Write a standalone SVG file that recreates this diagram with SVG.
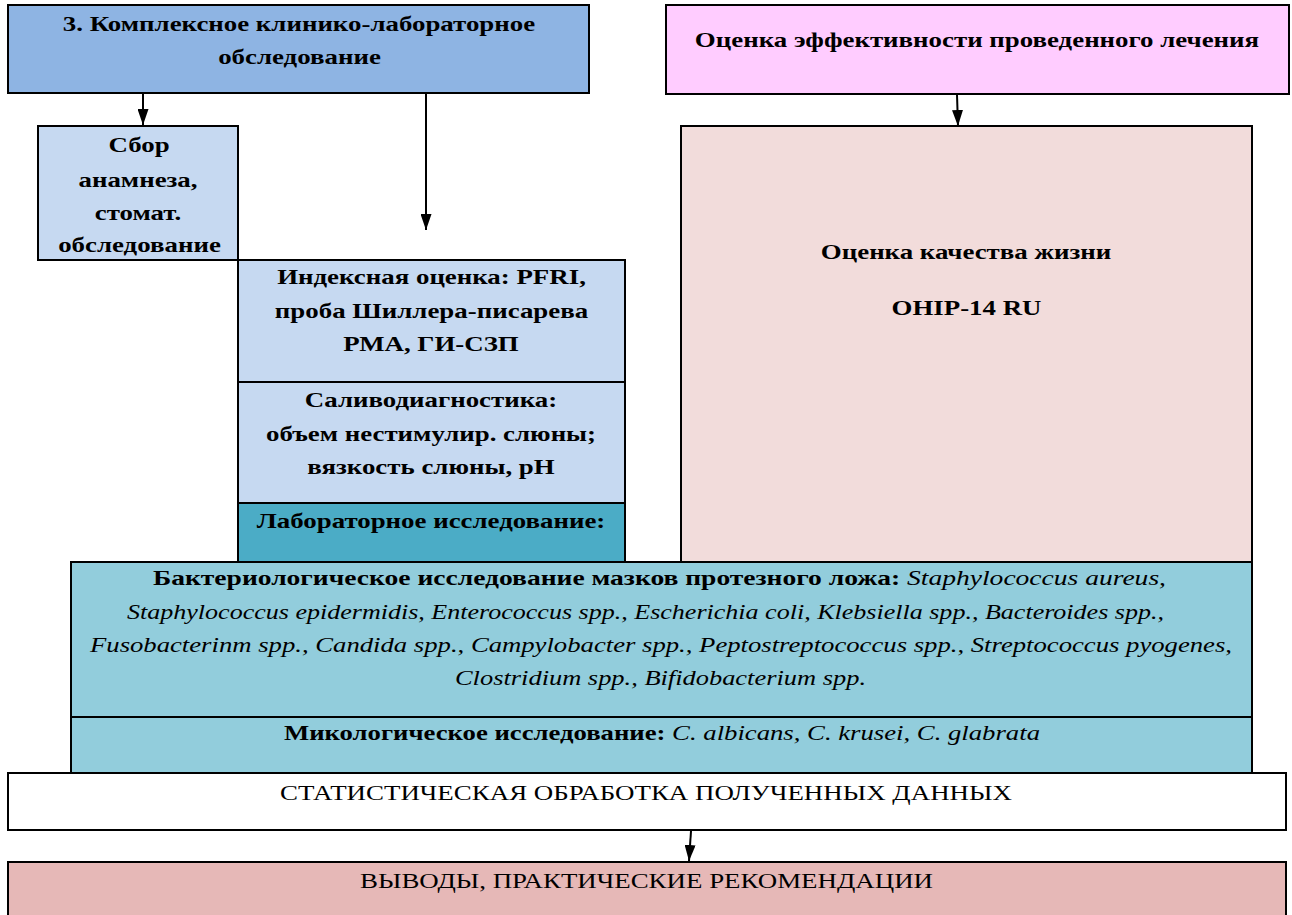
<svg xmlns="http://www.w3.org/2000/svg" width="1292" height="915" viewBox="0 0 1292 915">
<defs>
<marker id="ah" viewBox="0 0 16 11" refX="16" refY="5.5" markerWidth="16" markerHeight="11" markerUnits="userSpaceOnUse" orient="auto">
<path d="M0,0 L16,5.5 L0,11 z" fill="#000"/>
</marker>
<style>
.box{stroke:#000;stroke-width:2}
.t{font-family:"Liberation Serif","Times New Roman",serif;font-size:21px;fill:#000;text-anchor:middle}
.b{font-weight:bold}
.i{font-style:italic;font-weight:normal}
.r{font-size:20px;font-weight:normal}
.c{stroke:#000;stroke-width:2;fill:none;marker-end:url(#ah)}
</style>
</defs>
<rect width="1292" height="915" fill="#fff"/>
<g id="n-complex">
<rect class="box" x="8" y="5" width="581" height="88" fill="#8EB4E3"/>
<text class="t b" transform="translate(299 31) scale(1.28 1)">3. Комплексное клинико-лабораторное</text>
<text class="t b" transform="translate(299.5 64) scale(1.28 1)">обследование</text>
</g>
<g id="n-eff">
<rect class="box" x="666" y="5" width="623" height="89" fill="#FFCCFF"/>
<text class="t b" transform="translate(977 47) scale(1.28 1)">Оценка эффективности проведенного лечения</text>
</g>
<g id="n-anamnez">
<rect class="box" x="38" y="126" width="200" height="134" fill="#C6D9F1"/>
<text class="t b" transform="translate(139 152) scale(1.28 1)">Сбор</text>
<text class="t b" transform="translate(138 187) scale(1.28 1)">анамнеза,</text>
<text class="t b" transform="translate(138 220) scale(1.28 1)">стомат.</text>
<text class="t b" transform="translate(139.5 252) scale(1.28 1)">обследование</text>
</g>
<g id="n-index">
<rect class="box" x="238" y="260" width="387" height="122" fill="#C6D9F1"/>
<text class="t b" transform="translate(431.5 284) scale(1.28 1)">Индексная оценка: PFRI,</text>
<text class="t b" transform="translate(431.5 318) scale(1.28 1)">проба Шиллера-писарева</text>
<text class="t b" transform="translate(431 351) scale(1.28 1)">РМА, ГИ-СЗП</text>
</g>
<g id="n-saliva">
<rect class="box" x="238" y="382" width="387" height="121" fill="#C6D9F1"/>
<text class="t b" transform="translate(431 407) scale(1.28 1)">Саливодиагностика:</text>
<text class="t b" transform="translate(431 441) scale(1.28 1)">объем нестимулир. слюны;</text>
<text class="t b" transform="translate(431 474) scale(1.28 1)">вязкость слюны, рН</text>
</g>
<g id="n-lab">
<rect class="box" x="238" y="503" width="387" height="59" fill="#4BACC6"/>
<text class="t b" transform="translate(431 528) scale(1.28 1)">Лабораторное исследование:</text>
</g>
<g id="n-quality">
<rect class="box" x="681" y="126" width="571" height="436" fill="#F2DCDB"/>
<text class="t b" transform="translate(966 259) scale(1.28 1)">Оценка качества жизни</text>
<text class="t b" transform="translate(966.5 315) scale(1.28 1)">OHIP-14 RU</text>
</g>
<g id="n-bact">
<rect class="box" x="71" y="562" width="1181" height="155" fill="#92CDDC"/>
<text class="t" x="659.5" y="585" textLength="1013" lengthAdjust="spacingAndGlyphs"><tspan class="b">Бактериологическое исследование мазков протезного ложа: </tspan><tspan class="i">Staphylococcus aureus,</tspan></text>
<text class="t i" x="645.5" y="619" textLength="1037" lengthAdjust="spacingAndGlyphs">Staphylococcus epidermidis, Enterococcus spp., Escherichia coli, Klebsiella spp., Bacteroides spp.,</text>
<text class="t i" x="661" y="652" textLength="1142" lengthAdjust="spacingAndGlyphs">Fusobacterinm spp., Candida spp., Campylobacter spp., Peptostreptococcus spp., Streptococcus pyogenes,</text>
<text class="t i" x="660.5" y="685" textLength="411" lengthAdjust="spacingAndGlyphs">Clostridium spp., Bifidobacterium spp.</text>
</g>
<g id="n-myco">
<rect class="box" x="71" y="717" width="1181" height="56" fill="#92CDDC"/>
<text class="t" x="662" y="740" textLength="756" lengthAdjust="spacingAndGlyphs"><tspan class="b">Микологическое исследование: </tspan><tspan class="i">C. albicans, C. krusei, C. glabrata</tspan></text>
</g>
<g id="n-stat">
<rect class="box" x="8" y="773" width="1278" height="57" fill="#FFFFFF"/>
<text class="t r" x="646" y="800" textLength="732" lengthAdjust="spacingAndGlyphs">СТАТИСТИЧЕСКАЯ ОБРАБОТКА ПОЛУЧЕННЫХ ДАННЫХ</text>
</g>
<g id="n-concl">
<rect class="box" x="8" y="862" width="1278" height="60" fill="#E6B8B7"/>
<text class="t r" x="646.5" y="888" textLength="573" lengthAdjust="spacingAndGlyphs">ВЫВОДЫ, ПРАКТИЧЕСКИЕ РЕКОМЕНДАЦИИ</text>
</g>
<g id="connectors">
<line class="c" x1="143" y1="94" x2="143" y2="125"/>
<line class="c" x1="426" y1="94" x2="426" y2="230"/>
<line class="c" x1="957" y1="95" x2="958" y2="126"/>
<line class="c" x1="691" y1="831" x2="689" y2="861"/>
</g>
</svg>
